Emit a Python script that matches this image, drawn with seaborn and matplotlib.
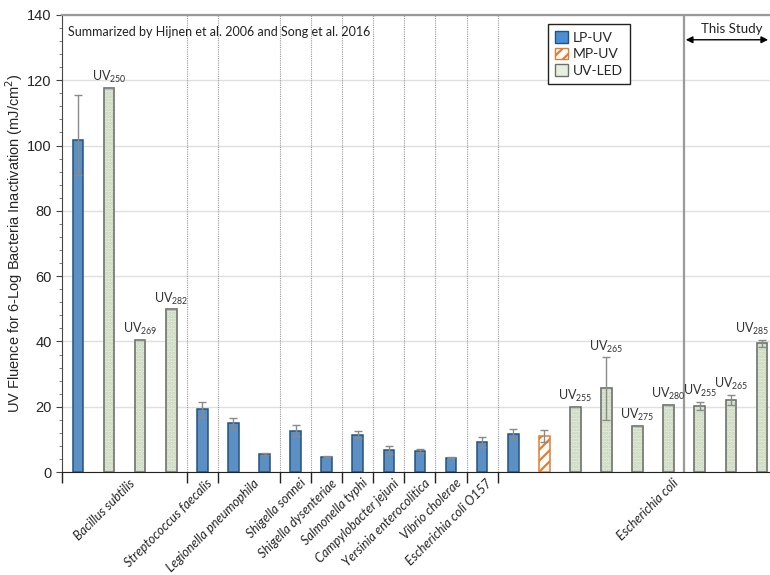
import numpy as np
import pandas as pd
import seaborn as sns
import matplotlib.pyplot as plt
from matplotlib.patches import Patch
from matplotlib.ticker import MultipleLocator, FixedLocator, NullFormatter

sns.set_style("ticks")
plt.rcParams['font.family'] = ['Liberation Sans', 'DejaVu Sans']
plt.rcParams['hatch.linewidth'] = 1.6

# bar data, one entry per bar (left to right)
types = ['LP-UV', 'UV-LED', 'UV-LED', 'UV-LED', 'LP-UV', 'LP-UV', 'LP-UV', 'LP-UV',
         'LP-UV', 'LP-UV', 'LP-UV', 'LP-UV', 'LP-UV', 'LP-UV', 'LP-UV', 'MP-UV',
         'UV-LED', 'UV-LED', 'UV-LED', 'UV-LED', 'UV-LED', 'UV-LED', 'UV-LED']
values = [101.7, 117.6, 40.4, 49.8, 19.2, 14.9, 5.5, 12.7, 4.7, 11.5, 6.7, 6.5,
          4.4, 9.3, 11.6, 11.1, 19.9, 25.6, 14.1, 20.5, 20.2, 22.1, 39.4]
err_hi = [13.8, 0, 0, 0, 2.2, 1.8, 0.3, 1.7, 0.2, 1.2, 1.3, 0.6,
          0.2, 1.5, 1.6, 1.8, 0, 9.5, 0, 0, 1.3, 1.5, 1.0]
err_lo = [10.8, 0, 0, 0, 2.2, 1.8, 0.3, 1.7, 0.2, 1.2, 1.3, 0.6,
          0.2, 1.5, 1.6, 1.8, 0, 9.5, 0, 0, 1.3, 1.5, 1.0]
# wavelength labels for the UV-LED bars, in order
led_waves = ['250', '269', '282', '255', '265', '275', '280', '255', '265', '285']

organisms = ['Bacillus subtilis', 'Streptococcus faecalis', 'Legionella pneumophila',
             'Shigella sonnei', 'Shigella dysenteriae', 'Salmonella typhi',
             'Campylobacter jejuni', 'Yersinia enterocolitica', 'Vibrio cholerae',
             'Escherichia coli O157', 'Escherichia coli']
# number of bars per organism (last group continues past the edge)
group_sizes = [4, 1, 2, 1, 1, 1, 1, 1, 1, 1, 11]
n_this_study = 3

pos = np.arange(len(values))
df = pd.DataFrame({'pos': pos, 'value': values, 'type': types})

colors = {'LP-UV': '#4a8fd6', 'MP-UV': 'white', 'UV-LED': '#e6f0dc'}
edges = {'LP-UV': '#23527f', 'MP-UV': '#e57c2f', 'UV-LED': '#6e6e6e'}
hatches = {'LP-UV': '', 'MP-UV': '///', 'UV-LED': '.....'}

fig = plt.figure(figsize=(7.7, 5.75), dpi=100)
ax = fig.add_axes([0.0805, 0.179, 0.9195, 0.795])

sns.barplot(data=df, x='pos', y='value', hue='type', native_scale=True, dodge=False,
            width=0.34, palette=colors, errorbar=None, legend=False, ax=ax, zorder=3)

for p in ax.patches:
    i = int(round(p.get_x() + p.get_width() / 2))
    t = types[i]
    p.set_linewidth(1.1)
    if t == 'UV-LED':
        # faint dotted texture, then dark outline on top
        p.set_edgecolor('#c3d3b6')
        p.set_hatch(hatches[t])
        ax.bar(i, values[i], width=p.get_width(), facecolor='none',
               edgecolor=edges[t], linewidth=1.1, zorder=4)
    else:
        p.set_edgecolor(edges[t])
        p.set_hatch(hatches[t])

ax.errorbar(pos, values, yerr=[err_lo, err_hi], fmt='none', ecolor='#8a8a8a',
            elinewidth=1, capsize=3, capthick=1, zorder=5)

# UV wavelength labels above LED bars
led_pos = [i for i, t in enumerate(types) if t == 'UV-LED']
for i, w in zip(led_pos, led_waves):
    dx = -7 if i == len(values) - 1 else 0
    ax.annotate(r'$\mathregular{UV_{%s}}$' % w, (i, values[i] + err_hi[i]),
                xytext=(dx, 2), textcoords='offset points', ha='center', va='bottom',
                fontsize=9, color='#333333', family='Lato', zorder=6)

# group boundaries
bounds = np.cumsum([0] + group_sizes) - 0.5
for b in bounds[1:-1]:
    ax.axvline(b, color='#9a9a9a', lw=0.8, ls=(0, (1, 1)), zorder=1)
study_x = len(values) - n_this_study - 0.5
ax.axvline(study_x, color='#9a9a9a', lw=1.6, zorder=1)

ax.set_xlim(-0.515, 22.26)
ax.set_ylim(0, 140)
ax.yaxis.set_major_locator(MultipleLocator(20))
ax.yaxis.set_minor_locator(MultipleLocator(4))
ax.grid(axis='y', color='#e0e0e0', lw=1, zorder=0)
ax.set_axisbelow(True)

centers = (bounds[:-1] + bounds[1:]) / 2 + 0.12
ax.xaxis.set_major_locator(FixedLocator(bounds[:-1]))
ax.xaxis.set_major_formatter(NullFormatter())
ax.set_xticks(centers, organisms, minor=True)
ax.tick_params(axis='x', which='major', length=8, width=1, color='#222222')
ax.tick_params(axis='x', which='minor', length=0, pad=3.5, labelrotation=45)
for lbl in ax.get_xticklabels(minor=True):
    lbl.set_ha('right')
    lbl.set_va('top')
    lbl.set_rotation_mode('anchor')
    lbl.set_fontstyle('italic')
    lbl.set_family('Lato')
    lbl.set_fontsize(9.2)

ax.tick_params(axis='y', which='major', length=4, labelsize=10.5, color='#444444')
ax.tick_params(axis='y', which='minor', length=2.5, color='#666666')
ax.set_xlabel('')
ax.set_ylabel('UV Fluence for 6-Log Bacteria Inactivation (mJ/cm$^2$)', fontsize=10.5)
ax.yaxis.set_label_coords(-0.052, 0.5)

ax.spines['right'].set_visible(False)
ax.spines['top'].set_color('#9a9a9a')
ax.spines['top'].set_linewidth(1.6)
ax.spines['left'].set_color('#444444')
ax.spines['bottom'].set_color('#222222')

ax.text(0.008, 0.975, 'Summarized by Hijnen et al. 2006 and Song et al. 2016',
        transform=ax.transAxes, ha='left', va='top', fontsize=9, family='Lato',
        color='#222222')

ax.annotate('', xy=(study_x + 0.05, 132.4), xytext=(22.2, 132.4),
            arrowprops=dict(arrowstyle='<|-|>', color='black', lw=1,
                            mutation_scale=10, shrinkA=0, shrinkB=0))
ax.text(21.04, 133.8, 'This Study', ha='center', va='bottom', fontsize=9.5,
        family='Lato', color='#222222')

handles = [Patch(facecolor=colors[k], edgecolor=edges[k], hatch=hatches[k] if k == 'MP-UV' else '',
                 label=k) for k in ['LP-UV', 'MP-UV', 'UV-LED']]
leg = ax.legend(handles=handles, loc='upper left', bbox_to_anchor=(0.686, 0.981),
                borderaxespad=0, frameon=True, fancybox=False, edgecolor='#222222',
                framealpha=1, handlelength=0.9, handleheight=0.9, handletextpad=0.35,
                borderpad=0.55, labelspacing=0.28, prop={'family': 'Lato', 'size': 10})
leg.get_frame().set_linewidth(1)

fig.savefig('out.png', dpi=100)
